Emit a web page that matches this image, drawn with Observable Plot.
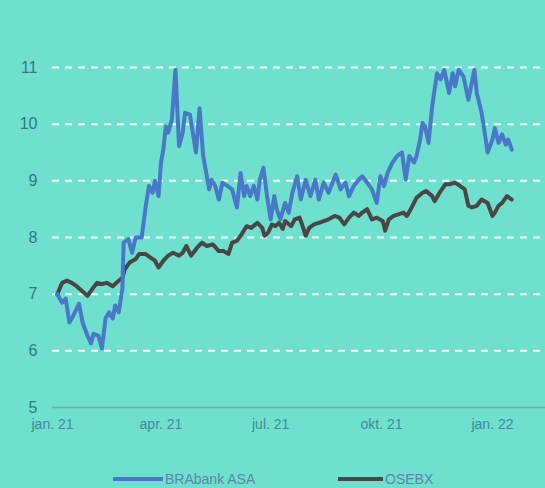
<!DOCTYPE html>
<html><head><meta charset="utf-8">
<script src="https://cdn.jsdelivr.net/npm/d3@7"></script>
<script src="https://cdn.jsdelivr.net/npm/@observablehq/plot@0.6"></script>
<style>
html,body{margin:0;padding:0;}
body{background:#6ee0cd;width:545px;height:488px;overflow:hidden;position:relative;font-family:"Liberation Sans",Arial,sans-serif;}
#chart{position:absolute;top:0;left:0;}
.leg{position:absolute;top:470px;font-size:14px;color:#5b86a8;display:flex;align-items:center;height:18px;}
.sw{display:inline-block;height:4px;margin-right:2px;}
</style>
</head><body>
<div id="chart"></div>
<div class="leg" style="left:113px"><span class="sw" style="width:50px;background:#4a78c8"></span>BRAbank ASA</div>
<div class="leg" style="left:338px"><span class="sw" style="width:45px;background:#4a4646"></span>OSEBX</div>
<script>
const braDates = ["2021-01-05","2021-01-09","2021-01-12","2021-01-15","2021-01-17","2021-01-23","2021-01-26","2021-01-30","2021-02-02","2021-02-04","2021-02-08","2021-02-11","2021-02-14","2021-02-17","2021-02-20","2021-02-22","2021-02-25","2021-02-28","2021-03-01","2021-03-05","2021-03-08","2021-03-11","2021-03-16","2021-03-19","2021-03-22","2021-03-25","2021-03-27","2021-03-30","2021-04-01","2021-04-03","2021-04-05","2021-04-07","2021-04-10","2021-04-13","2021-04-16","2021-04-19","2021-04-21","2021-04-25","2021-04-30","2021-05-03","2021-05-06","2021-05-11","2021-05-13","2021-05-16","2021-05-19","2021-05-22","2021-05-26","2021-05-30","2021-06-03","2021-06-06","2021-06-09","2021-06-11","2021-06-14","2021-06-17","2021-06-20","2021-06-22","2021-06-25","2021-06-28","2021-07-01","2021-07-04","2021-07-06","2021-07-09","2021-07-13","2021-07-16","2021-07-19","2021-07-23","2021-07-26","2021-07-30","2021-08-03","2021-08-07","2021-08-10","2021-08-14","2021-08-18","2021-08-24","2021-08-28","2021-09-01","2021-09-04","2021-09-08","2021-09-12","2021-09-15","2021-09-19","2021-09-23","2021-09-27","2021-09-30","2021-10-03","2021-10-06","2021-10-10","2021-10-14","2021-10-18","2021-10-21","2021-10-24","2021-10-28","2021-10-30","2021-11-02","2021-11-04","2021-11-06","2021-11-09","2021-11-12","2021-11-16","2021-11-19","2021-11-22","2021-11-26","2021-11-29","2021-12-01","2021-12-04","2021-12-08","2021-12-12","2021-12-17","2021-12-19","2021-12-23","2021-12-26","2021-12-28","2022-01-01","2022-01-03","2022-01-06","2022-01-09","2022-01-12","2022-01-14","2022-01-17"];
const braValues = [7.0,6.85,6.92,6.5,6.57,6.83,6.5,6.27,6.13,6.3,6.27,6.04,6.57,6.68,6.57,6.8,6.68,7.1,7.91,7.97,7.73,8.0,8.0,8.5,8.91,8.79,9.0,8.73,9.32,9.56,9.96,9.85,10.08,10.96,9.61,9.85,10.2,10.17,9.5,10.28,9.44,8.85,9.02,8.91,8.67,8.97,8.91,8.85,8.53,9.14,8.73,8.91,8.73,8.91,8.67,9.02,9.23,8.73,8.32,8.73,8.5,8.32,8.61,8.44,8.79,9.08,8.67,9.02,8.73,9.02,8.67,8.97,8.79,9.11,8.85,8.97,8.73,8.91,9.02,9.08,8.97,8.85,8.61,9.08,8.91,9.14,9.32,9.44,9.5,9.02,9.44,9.32,9.44,9.73,10.02,9.96,9.67,10.32,10.9,10.79,10.96,10.55,10.9,10.67,10.96,10.84,10.43,10.96,10.55,10.2,9.79,9.5,9.73,9.93,9.67,9.82,9.64,9.73,9.55];
const osebxDates = ["2021-01-05","2021-01-09","2021-01-13","2021-01-17","2021-01-21","2021-01-30","2021-02-03","2021-02-07","2021-02-11","2021-02-15","2021-02-20","2021-02-23","2021-02-28","2021-03-02","2021-03-06","2021-03-11","2021-03-14","2021-03-19","2021-03-23","2021-03-27","2021-03-30","2021-04-03","2021-04-07","2021-04-11","2021-04-16","2021-04-19","2021-04-22","2021-04-26","2021-05-01","2021-05-05","2021-05-09","2021-05-14","2021-05-19","2021-05-23","2021-05-27","2021-05-30","2021-06-03","2021-06-07","2021-06-11","2021-06-15","2021-06-20","2021-06-24","2021-06-26","2021-06-29","2021-07-02","2021-07-05","2021-07-08","2021-07-11","2021-07-13","2021-07-18","2021-07-21","2021-07-25","2021-07-28","2021-07-30","2021-08-02","2021-08-06","2021-08-10","2021-08-14","2021-08-18","2021-08-23","2021-08-27","2021-08-31","2021-09-04","2021-09-08","2021-09-12","2021-09-15","2021-09-19","2021-09-23","2021-09-27","2021-10-02","2021-10-04","2021-10-07","2021-10-11","2021-10-15","2021-10-19","2021-10-22","2021-10-26","2021-10-30","2021-11-04","2021-11-07","2021-11-12","2021-11-14","2021-11-19","2021-11-23","2021-11-27","2021-12-01","2021-12-05","2021-12-09","2021-12-12","2021-12-15","2021-12-19","2021-12-23","2021-12-28","2022-01-01","2022-01-03","2022-01-06","2022-01-09","2022-01-13","2022-01-17"];
const osebxValues = [7.0,7.2,7.24,7.2,7.14,6.97,7.09,7.2,7.18,7.2,7.14,7.2,7.29,7.44,7.56,7.62,7.71,7.71,7.65,7.59,7.47,7.59,7.68,7.73,7.68,7.73,7.85,7.68,7.82,7.91,7.85,7.88,7.76,7.76,7.71,7.91,7.94,8.06,8.2,8.17,8.26,8.17,8.03,8.09,8.23,8.2,8.26,8.15,8.29,8.2,8.32,8.35,8.17,8.03,8.17,8.23,8.26,8.29,8.32,8.38,8.35,8.23,8.35,8.44,8.38,8.44,8.5,8.32,8.35,8.29,8.12,8.32,8.38,8.41,8.44,8.38,8.53,8.7,8.79,8.82,8.73,8.64,8.82,8.94,8.94,8.97,8.91,8.85,8.56,8.53,8.56,8.67,8.61,8.38,8.44,8.56,8.61,8.73,8.67];
const xTickDates = ["2021-01-01","2021-04-01","2021-07-01","2021-10-01","2022-01-01"];
const monthNames = ["jan.","feb.","mar.","apr.","mai","jun.","jul.","aug.","sep.","okt.","nov.","des."];
const yTicks = [5,6,7,8,9,10,11];
const gridValues = [6,7,8,9,10,11];

const bra = braDates.map((d,i)=>({date:new Date(d), value:braValues[i]}));
const osebx = osebxDates.map((d,i)=>({date:new Date(d), value:osebxValues[i]}));
const fmt = d => monthNames[d.getUTCMonth()] + " " + String(d.getUTCFullYear()).slice(2);

const chart = Plot.plot({
  width: 545, height: 440,
  marginTop: 67, marginBottom: 33, marginLeft: 52, marginRight: 0,
  style: {background: "transparent", fontFamily: "'Liberation Sans', Arial, sans-serif", overflow: "visible"},
  x: {type: "utc", domain: [new Date("2021-01-01"), new Date("2022-02-14")], label: null},
  y: {domain: [5, 11], label: null},
  marks: [
    Plot.ruleY(gridValues, {stroke: "white", strokeWidth: 2, strokeDasharray: "7,6", strokeOpacity: 0.9}),
    Plot.ruleY([5], {stroke: "#7fa9a8", strokeWidth: 1.5}),
    Plot.axisX({ticks: xTickDates.map(d=>new Date(d)), tickFormat: fmt, tickSize: 0, tickPadding: 12, fontSize: 14, fill: "#3f8a9a", label: null}),
    Plot.axisY({ticks: yTicks, tickFormat: d3.format("d"), tickSize: 0, tickPadding: 15, fontSize: 16, fill: "#2f7a7e", label: null}),
    Plot.lineY(osebx, {x: "date", y: "value", stroke: "#4a4646", strokeWidth: 4}),
    Plot.lineY(bra, {x: "date", y: "value", stroke: "#4a78c8", strokeWidth: 4})
  ]
});
document.getElementById("chart").appendChild(chart);
</script>
</body></html>
